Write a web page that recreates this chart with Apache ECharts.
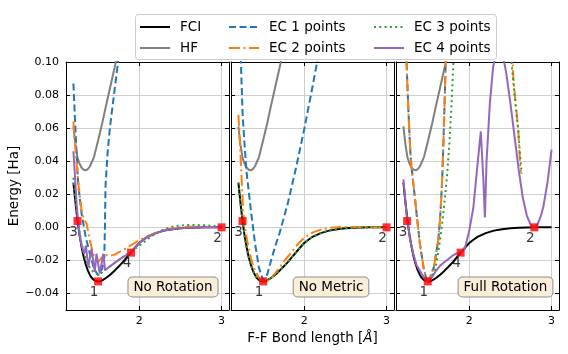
<!DOCTYPE html>
<html>
<head>
<meta charset="utf-8">
<script src="https://cdn.jsdelivr.net/npm/echarts@6/dist/echarts.min.js"></script>
<style>
  html, body { margin: 0; padding: 0; background: #fff; }
  #chart { width: 568px; height: 354px; }
</style>
</head>
<body>
<div id="chart"></div>
<script>
// values: x = F-F bond length [A], y = energy [Ha]
const fci = [[1.2,0.027],[1.225,0.015],[1.25,0.004],[1.275,-0.005],[1.3,-0.012],[1.325,-0.018],[1.35,-0.0225],[1.375,-0.026],[1.4,-0.0288],[1.425,-0.0307],[1.45,-0.0319],[1.475,-0.0325],[1.5,-0.0327],[1.525,-0.0326],[1.55,-0.0321],[1.6,-0.0305],[1.65,-0.0285],[1.7,-0.0262],[1.75,-0.0237],[1.8,-0.021],[1.85,-0.018],[1.9,-0.0152],[1.95,-0.0122],[2.0,-0.0095],[2.05,-0.0075],[2.1,-0.0058],[2.2,-0.0035],[2.3,-0.002],[2.4,-0.0011],[2.5,-0.0006],[2.6,-0.0003],[2.7,-0.0001],[2.8,0],[2.9,0],[3.0,0]];
const hf = [[1.2,0.061],[1.225,0.05],[1.25,0.042],[1.275,0.0385],[1.3,0.036],[1.325,0.0348],[1.35,0.0345],[1.375,0.0352],[1.4,0.0368],[1.45,0.0425],[1.5,0.0525],[1.55,0.063],[1.6,0.0745],[1.65,0.0855],[1.7,0.0965],[1.75,0.108]];

// panel 1: No Rotation
const ec1NoRot = [[1.2,0.087],[1.215,0.07],[1.23,0.053],[1.245,0.038],[1.26,0.025],[1.3,0.008],[1.35,-0.006],[1.4,-0.016],[1.45,-0.025],[1.5,-0.029],[1.55,-0.025],[1.575,-0.018],[1.583,0.0],[1.59,0.025],[1.615,0.045],[1.645,0.061],[1.7,0.083],[1.745,0.101],[1.76,0.108]];
const ec2NoRot = [[1.2,0.064],[1.225,0.047],[1.25,0.032],[1.275,0.02],[1.3,0.01],[1.32,0.0062],[1.34,0.004],[1.36,0.0022],[1.38,-0.003],[1.4,-0.008],[1.43,-0.014],[1.46,-0.019],[1.5,-0.021],[1.55,-0.018],[1.6,-0.0168],[1.65,-0.0172],[1.7,-0.0165],[1.8,-0.0138],[1.9,-0.0108],[2.0,-0.0078],[2.1,-0.0053],[2.2,-0.0033],[2.3,-0.0018],[2.4,-0.0007],[2.5,0.0],[2.6,0.0003],[2.7,0.0004],[2.8,0.0003],[2.9,0.0002],[3.0,0.0]];
const ec3NoRot = [[1.2,0.03],[1.225,0.017],[1.25,0.006],[1.275,-0.003],[1.3,-0.01],[1.35,-0.019],[1.4,-0.0245],[1.45,-0.0275],[1.5,-0.0285],[1.55,-0.0272],[1.6,-0.0252],[1.7,-0.0215],[1.8,-0.018],[1.9,-0.0145],[2.0,-0.0112],[2.1,-0.0072],[2.2,-0.0038],[2.3,-0.0012],[2.4,0.0004],[2.5,0.0011],[2.6,0.0014],[2.7,0.0014],[2.8,0.0012],[2.9,0.0008],[3.0,0.0005]];
const ec4NoRot = [[1.2,0.046],[1.22,0.03],[1.24,0.013],[1.26,0.002],[1.28,-0.006],[1.3,-0.011],[1.33,-0.016],[1.352,-0.011],[1.38,-0.024],[1.42,-0.013],[1.46,-0.027],[1.48,-0.016],[1.52,-0.028],[1.563,-0.016],[1.585,-0.026],[1.62,-0.0245],[1.7,-0.0215],[1.8,-0.018],[1.9,-0.0152],[2.0,-0.0095],[2.1,-0.0058],[2.2,-0.0035],[2.3,-0.002],[2.4,-0.0011],[2.5,-0.0006],[2.6,-0.0003],[2.7,-0.0001],[2.8,0],[2.9,0],[3.0,0]];

// panel 2: No Metric
const ec1NoMetric = [[1.2,0.135],[1.23,0.1],[1.25,0.07],[1.27,0.053],[1.3,0.033],[1.35,0.011],[1.4,-0.009],[1.45,-0.0245],[1.5,-0.032],[1.55,-0.0285],[1.6,-0.0195],[1.65,-0.011],[1.7,-0.0035],[1.8,0.0145],[1.9,0.036],[2.0,0.0595],[2.1,0.085],[2.16,0.101],[2.2,0.111]];
const ec2NoMetric = [[1.2,0.068],[1.22,0.05],[1.24,0.028],[1.26,0.008],[1.29,-0.003],[1.32,-0.012],[1.36,-0.02],[1.4,-0.026],[1.45,-0.0305],[1.5,-0.0325],[1.55,-0.0323],[1.6,-0.0308],[1.644,-0.028],[1.7,-0.0243],[1.75,-0.0208],[1.8,-0.0178],[1.85,-0.015],[1.9,-0.0115],[2.0,-0.0062],[2.1,-0.0032],[2.2,-0.0014],[2.3,-0.0004],[2.4,0.0001],[2.5,0.0002],[2.6,0.0002],[2.7,0.0001],[2.8,0.0001],[3.0,0]];
const ec3NoMetric = [[1.2,0.027],[1.225,0.015],[1.25,0.004],[1.275,-0.005],[1.3,-0.012],[1.325,-0.018],[1.35,-0.0225],[1.375,-0.026],[1.4,-0.0288],[1.425,-0.0307],[1.45,-0.0319],[1.475,-0.0325],[1.5,-0.0327],[1.525,-0.0326],[1.55,-0.0321],[1.6,-0.0305],[1.65,-0.0285],[1.7,-0.0262],[1.75,-0.0237],[1.8,-0.021],[1.85,-0.018],[1.9,-0.0152],[1.95,-0.0122],[2.0,-0.0095],[2.05,-0.0075],[2.1,-0.0058],[2.2,-0.0035],[2.3,-0.002],[2.4,-0.0011],[2.5,-0.0006],[2.6,-0.0003],[2.7,-0.0001],[2.8,0],[2.9,0],[3.0,0]];

// panel 3: Full Rotation
const ec1FullRot = [[1.2,0.15],[1.24,0.097],[1.255,0.078],[1.27,0.06],[1.285,0.045],[1.3,0.036],[1.35,0.013],[1.4,-0.01],[1.45,-0.026],[1.49,-0.0327],[1.53,-0.0295],[1.57,-0.024],[1.6,-0.015],[1.625,-0.007],[1.645,0.005],[1.66,0.018],[1.672,0.03],[1.685,0.05],[1.7,0.075],[1.713,0.098],[1.72,0.11]];
const ec2FullRot = [[1.2,0.15],[1.24,0.097],[1.255,0.078],[1.27,0.06],[1.285,0.045],[1.3,0.036],[1.35,0.013],[1.4,-0.01],[1.45,-0.026],[1.49,-0.0327],[1.53,-0.0295],[1.57,-0.024],[1.6,-0.015],[1.625,-0.007],[1.645,0.005],[1.66,0.018],[1.672,0.03],[1.685,0.05],[1.7,0.075],[1.713,0.098],[1.72,0.11],[2.51,0.115],[2.535,0.091],[2.56,0.077],[2.595,0.0588],[2.61,0.045],[2.625,0.033]];
const ec3FullRot = [[1.47,-0.031],[1.5,-0.0325],[1.53,-0.031],[1.583,-0.026],[1.62,-0.016],[1.644,-0.008],[1.68,0.006],[1.705,0.0184],[1.733,0.033],[1.76,0.052],[1.785,0.075],[1.806,0.098],[1.815,0.11],[2.49,0.115],[2.515,0.099],[2.55,0.08],[2.595,0.0588],[2.62,0.042],[2.637,0.0325]];
const ec4FullRot = [[1.2,0.029],[1.24,0.007],[1.28,-0.007],[1.32,-0.016],[1.36,-0.023],[1.42,-0.028],[1.46,-0.031],[1.5,-0.0327],[1.55,-0.03],[1.6,-0.026],[1.65,-0.023],[1.7,-0.021],[1.75,-0.019],[1.8,-0.017],[1.85,-0.0158],[1.9,-0.015],[1.95,-0.012],[2.0,-0.002],[2.05,0.012],[2.1,0.038],[2.14,0.058],[2.17,0.03],[2.19,0.006],[2.21,0.04],[2.25,0.075],[2.29,0.097],[2.33,0.106],[2.37,0.108],[2.41,0.104],[2.45,0.093],[2.5,0.075],[2.55,0.055],[2.6,0.035],[2.65,0.018],[2.7,0.007],[2.75,0.001],[2.79,0.0],[2.83,0.002],[2.87,0.007],[2.9,0.0125],[2.95,0.027],[3.0,0.047]];

// sample points (red squares) with their numbers
const ptsNoRot = [[1.25,0.0038,'3'],[1.5,-0.0327,'1'],[1.9,-0.0153,'4'],[3.0,0.0,'2']];
const ptsNoMetric = [[1.25,0.0038,'3'],[1.5,-0.0327,'1'],[3.0,0.0,'2']];
const ptsFullRot = [[1.245,0.0038,'3'],[1.495,-0.0327,'1'],[1.895,-0.0153,'4'],[2.79,0.0,'2']];

// ticks
const xTicks = [2, 3];
const yTicks = [-0.04, -0.02, 0.0, 0.02, 0.04, 0.06, 0.08, 0.10];
const panelTitles = ['No Rotation', 'No Metric', 'Full Rotation'];
const xMin = 1.11, xMax = 3.09, yMin = -0.05, yMax = 0.10;

const FONT = 'DejaVu Sans';
const colors = {
  'FCI': '#000000', 'HF': '#808080', 'EC 1 points': '#1f77b4',
  'EC 2 points': '#ff7f0e', 'EC 3 points': '#2ca02c', 'EC 4 points': '#9467bd'
};
const dashes = {
  'FCI': 'solid', 'HF': 'solid', 'EC 1 points': [7, 3.5],
  'EC 2 points': [11, 3.5, 2, 3.5], 'EC 3 points': [2, 3.3], 'EC 4 points': 'solid'
};

const panels = [
  {curves: [['FCI', fci], ['HF', hf], ['EC 1 points', ec1NoRot], ['EC 2 points', ec2NoRot], ['EC 3 points', ec3NoRot], ['EC 4 points', ec4NoRot]], pts: ptsNoRot},
  {curves: [['FCI', fci], ['HF', hf], ['EC 1 points', ec1NoMetric], ['EC 2 points', ec2NoMetric], ['EC 3 points', ec3NoMetric]], pts: ptsNoMetric},
  {curves: [['FCI', fci], ['HF', hf], ['EC 1 points', ec1FullRot], ['EC 2 points', ec2FullRot], ['EC 3 points', ec3FullRot], ['EC 4 points', ec4FullRot]], pts: ptsFullRot}
];

const gridLefts = [66, 231, 396];
const gridW = 163, gridTop = 62, gridH = 248;

const grid = gridLefts.map(l => ({left: l, top: gridTop, width: gridW, height: gridH, show: false}));

const lineAxis = {show: true, onZero: false, lineStyle: {color: '#000', width: 1}};
const gridLine = {show: true, lineStyle: {color: '#cfcfcf', width: 1}};

function fmtY(v) {
  const s = (Math.round(v * 100) / 100).toFixed(2);
  return v < -1e-9 ? '\u2212' + s.slice(1) : s;
}

const xAxis = [], yAxis = [];
gridLefts.forEach((_, i) => {
  xAxis.push({
    type: 'value', gridIndex: i, min: xMin, max: xMax, position: 'bottom',
    axisLine: lineAxis, splitLine: gridLine,
    axisTick: {show: true, inside: true, length: 4, customValues: xTicks, lineStyle: {color: '#000'}},
    axisLabel: {show: true, customValues: xTicks, formatter: v => String(v), fontSize: 11, fontFamily: FONT, color: '#000', margin: 6},
    name: i === 1 ? 'F-F Bond length [{i|\u00c5}]' : '', nameLocation: 'middle', nameGap: 21,
    nameTextStyle: {fontSize: 13.5, fontFamily: FONT, color: '#000', rich: {i: {fontStyle: 'italic', fontSize: 13.5, fontFamily: FONT, color: '#000'}}}
  });
  yAxis.push({
    type: 'value', gridIndex: i, min: yMin, max: yMax, position: 'left',
    axisLine: lineAxis, splitLine: gridLine,
    axisTick: {show: true, inside: true, length: 4, customValues: yTicks, lineStyle: {color: '#000'}},
    axisLabel: {show: i === 0, customValues: yTicks, formatter: fmtY, fontSize: 11, fontFamily: FONT, color: '#000', margin: 7},
    name: i === 0 ? 'Energy [Ha]' : '', nameLocation: 'middle', nameGap: 45,
    nameTextStyle: {fontSize: 13.5, fontFamily: FONT, color: '#000'}
  });
});
// mirror axes for top and right ticks
gridLefts.forEach((_, i) => {
  xAxis.push({type: 'value', gridIndex: i, min: xMin, max: xMax, position: 'top',
    axisLine: lineAxis, splitLine: {show: false}, axisLabel: {show: false},
    axisTick: {show: true, inside: true, length: 4, customValues: xTicks, lineStyle: {color: '#000'}}});
  yAxis.push({type: 'value', gridIndex: i, min: yMin, max: yMax, position: 'right',
    axisLine: lineAxis, splitLine: {show: false}, axisLabel: {show: false},
    axisTick: {show: true, inside: true, length: 4, customValues: yTicks, lineStyle: {color: '#000'}}});
});

const series = [];
panels.forEach((p, i) => {
  p.curves.forEach(([name, data], k) => {
    series.push({
      type: 'line', name: name, data: data, xAxisIndex: i, yAxisIndex: i,
      symbol: 'none', clip: true, smooth: false, z: 2 + k * 0.1,
      lineStyle: {color: colors[name], width: 2, type: dashes[name], cap: 'butt'},
      itemStyle: {color: colors[name]},
      emphasis: {disabled: true}
    });
  });
  series.push({
    type: 'scatter', name: 'points', data: p.pts, xAxisIndex: i, yAxisIndex: i,
    symbol: 'rect', symbolSize: 8, clip: false, z: 5,
    itemStyle: {color: '#ff0000'},
    label: {show: true, position: 'bottom', distance: 0, offset: [-4, 0],
      formatter: d => d.value[2], fontSize: 13.5, fontFamily: FONT, color: '#000'},
    emphasis: {disabled: true}
  });
});

const legendBase = {
  orient: 'vertical', top: 20, itemWidth: 30, itemHeight: 14, itemGap: 7, padding: 0,
  selectedMode: false, z: 10,
  itemStyle: {opacity: 0},
  textStyle: {fontSize: 13.5, fontFamily: FONT, color: '#000', padding: [0, 0, 0, 5]}
};

const graphic = [
  {type: 'rect', z: 1, shape: {x: 135.5, y: 14.5, width: 361, height: 45, r: 3},
    style: {fill: 'rgba(255,255,255,0.8)', stroke: '#cccccc', lineWidth: 1}}
];
const boxCenters = [173, 331, 505.5];
panelTitles.forEach((t, i) => {
  graphic.push({
    type: 'text', z: 20, x: boxCenters[i], y: 287,
    style: {text: t, fontSize: 13.5, fontFamily: FONT, fill: '#000', align: 'center', verticalAlign: 'middle',
      backgroundColor: '#faeed9', borderColor: '#8c8c8c', borderWidth: 1, borderRadius: 4, padding: [3, 5, 2, 5]}
  });
});

const chart = echarts.init(document.getElementById('chart'));
chart.setOption({
  animation: false,
  backgroundColor: '#ffffff',
  grid: grid,
  xAxis: xAxis,
  yAxis: yAxis,
  legend: [
    Object.assign({}, legendBase, {left: 139, data: ['FCI', 'HF']}),
    Object.assign({}, legendBase, {left: 228, data: ['EC 1 points', 'EC 2 points']}),
    Object.assign({}, legendBase, {left: 373, data: ['EC 3 points', 'EC 4 points']})
  ],
  graphic: graphic,
  series: series
});
</script>
</body>
</html>
